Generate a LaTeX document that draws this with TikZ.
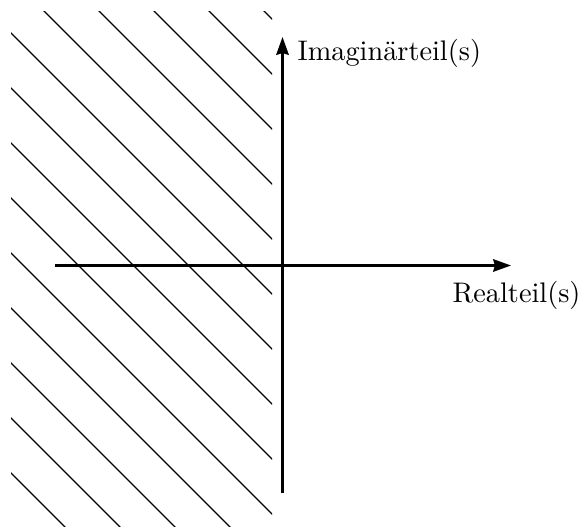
\documentclass[tikz,border=0pt]{standalone}
\usetikzlibrary{arrows.meta}
\begin{document}
\begin{tikzpicture}[x=0.3533pt,y=-0.3533pt,
  axis/.style={line width=0.85pt,-{Stealth[length=6.3pt,width=4.4pt,inset=0.6pt]}},
  hatch/.style={line width=0.45pt},
  lbl/.style={inner sep=0pt,anchor=base west}]
\useasboundingbox (0,0) rectangle (582,527);
\begin{scope}
  \clip (11,12) rectangle (272,527);
  \foreach \k in {-4,...,10} {
    \draw[hatch] ({33-55*\k-600},-600) -- ({33-55*\k+1200},1200);
  }
\end{scope}
\coordinate (xl) at (55,265.5);
\coordinate (xr) at (511,265.5);
\coordinate (yb) at (282.5,493);
\coordinate (yt) at (282.5,37);
\draw[axis] (xl) -- (xr);
\draw[axis] (yb) -- (yt);
\node[lbl] (im) at (297,61) {Imaginärteil(s)};
\node[lbl] (re) at (452,303) {Realteil(s)};
\end{tikzpicture}
\end{document}
